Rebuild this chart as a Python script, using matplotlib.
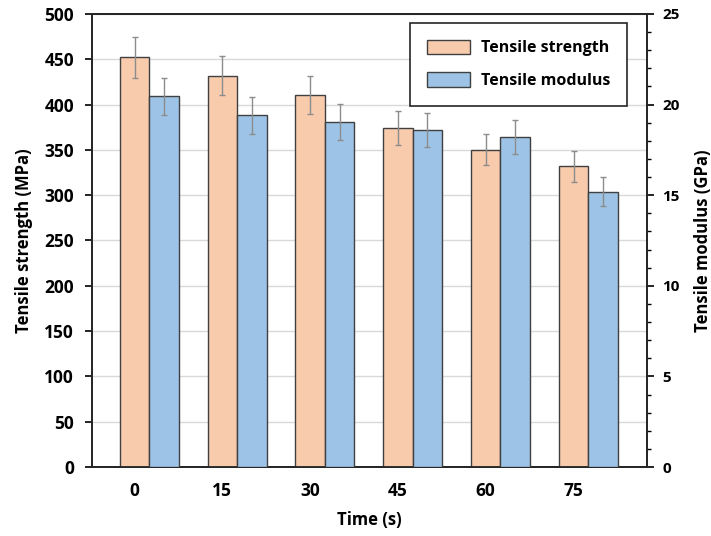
#!/usr/bin/env python3
"""Tensile strength and modulus versus treatment time, two y axes."""

import matplotlib.pyplot as plt
import numpy as np
from matplotlib.ticker import MultipleLocator

plt.rcParams["font.family"] = ["Open Sans", "DejaVu Sans"]
plt.rcParams["font.weight"] = "bold"

times = ["0", "15", "30", "45", "60", "75"]
strength_mpa = [452, 432, 411, 374, 350, 332]
strength_err = [23, 22, 21, 19, 17, 17]
modulus_gpa = [20.45, 19.4, 19.05, 18.6, 18.2, 15.2]
modulus_err = [1.0, 1.0, 1.0, 0.95, 0.95, 0.8]

ORANGE = "#F8CBAD"
BLUE = "#9DC3E6"
EDGE = "#404040"
ERR = "#8c8c8c"


def main() -> None:
    fig = plt.figure(figsize=(7.11, 5.36), dpi=100)
    ax = fig.add_axes([0.1294, 0.1287, 0.7806, 0.8453])
    ax2 = ax.twinx()

    x = np.arange(len(times))
    width = 0.336
    err_kw = dict(ecolor=ERR, elinewidth=1.0, capsize=2.5, capthick=1.0)

    ax.bar(x, strength_mpa, width, color=ORANGE, edgecolor=EDGE, linewidth=1.0,
           yerr=strength_err, error_kw=err_kw, label="Tensile strength", zorder=3)
    ax2.bar(x + width, modulus_gpa, width, color=BLUE, edgecolor=EDGE, linewidth=1.0,
            yerr=modulus_err, error_kw=err_kw, label="Tensile modulus", zorder=3)

    ax.set_xlim(-0.484, 5.837)
    ax.set_ylim(0, 500)
    ax2.set_ylim(0, 25)
    ax.set_xticks(x)
    ax.set_xticklabels(times)
    ax.yaxis.set_major_locator(MultipleLocator(50))
    ax2.yaxis.set_major_locator(MultipleLocator(5))
    ax2.yaxis.set_minor_locator(MultipleLocator(1))

    ax.grid(axis="y", color="#d9d9d9", linewidth=1.0, zorder=0)
    ax.set_axisbelow(True)

    for a in (ax, ax2):
        for side in a.spines.values():
            side.set_color("#262626")
            side.set_linewidth(1.3)

    ax.tick_params(axis="x", length=0, pad=11, labelsize=12.5)
    ax.tick_params(axis="y", length=5, width=1.2, pad=8, labelsize=12.5)
    ax2.tick_params(axis="y", which="major", length=5, width=1.2, pad=6, labelsize=11)
    ax2.tick_params(axis="y", which="minor", length=3, width=1.0)

    ax.set_xlabel("Time (s)", fontsize=12, fontweight="bold", labelpad=8)
    ax.set_ylabel("Tensile strength (MPa)", fontsize=12, fontweight="bold", labelpad=8)
    ax2.set_ylabel("Tensile modulus (GPa)", fontsize=12, fontweight="bold", labelpad=10)

    handles = ax.get_legend_handles_labels()[0] + ax2.get_legend_handles_labels()[0]
    labels = ["Tensile strength", "Tensile modulus"]
    leg = ax2.legend(handles, labels, loc="upper right", bbox_to_anchor=(0.964, 0.980),
                     fancybox=False, edgecolor="#262626", framealpha=1,
                     prop=dict(size=11.5, weight="bold"), handlelength=2.7,
                     handleheight=1.0, handletextpad=0.7, borderpad=1.05,
                     borderaxespad=0, labelspacing=1.0)
    leg.get_frame().set_linewidth(1.2)

    fig.savefig("out.png", dpi=100)
    plt.close(fig)


if __name__ == "__main__":
    main()
